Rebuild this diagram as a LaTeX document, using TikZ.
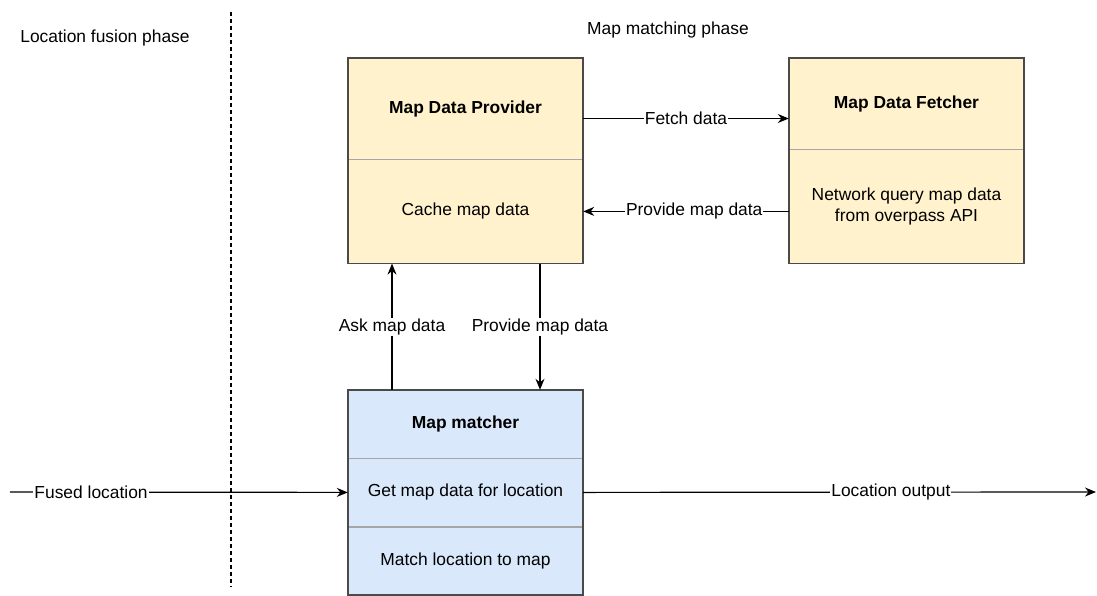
\documentclass[tikz,border=0pt]{standalone}
\usepackage{fontspec}
\setmainfont{Liberation Sans}
\usetikzlibrary{arrows.meta}
\usetikzlibrary{positioning}

\definecolor{yellowfill}{HTML}{FFF2CC}
\definecolor{bluefill}{HTML}{DAE8FC}
\definecolor{framegray}{HTML}{4A4A4A}

\begin{document}
\begin{tikzpicture}[x=1pt, y=-1pt, font=\fontsize{17.4}{21}\selectfont,
	part/.style={draw=gray!70, minimum width=235pt, inner sep=0pt, align=center},
	yellowpart/.style={part, fill=yellowfill},
	bluepart/.style={part, fill=bluefill},
	frame/.style={draw=framegray, line width=1.5pt},
	flow/.style={-{Stealth[length=11pt,width=9pt]}, line width=1.2pt},
	tag/.style={fill=white, inner sep=1pt}]
	\useasboundingbox (0,0) rectangle (1097,595);

	\node (fusion) at (105,38) {Location fusion phase};
	\node (matching) at (668,30) {Map matching phase};
	\draw[line width=1.2pt, dash pattern=on 4pt off 3pt] (231,12) -- (231,587);

	\node[yellowpart, minimum height=101pt] (prov) at (465.5,108.5) {\textbf{Map Data Provider}};
	\node[yellowpart, minimum height=104pt, below=0pt of prov] (cache) {Cache map data};
	\draw[frame] (prov.north west) rectangle (cache.south east);

	\node[yellowpart, minimum height=91pt] (fetch) at (906.5,103.5) {\textbf{Map Data Fetcher}};
	\node[yellowpart, minimum height=114pt, below=0pt of fetch] (query) {Network query map data\\from overpass API};
	\draw[frame] (fetch.north west) rectangle (query.south east);

	\node[bluepart, minimum height=68pt] (match) at (465.5,424) {\textbf{Map matcher}};
	\node[bluepart, minimum height=68pt, below=0pt of match] (getdata) {Get map data for location};
	\node[bluepart, minimum height=68pt, below=0pt of getdata] (tomap) {Match location to map};
	\draw[frame] (match.north west) rectangle (tomap.south east);

	\coordinate (in) at (10,492);
	\coordinate (out) at (1096,492);

	\draw[flow] ([yshift=-10pt]prov.east) -- ([yshift=-10pt]prov.east -| fetch.west) node[tag, midway] {Fetch data};
	\draw[flow] (query.west |- cache.east) -- (cache.east) node[tag, pos=0.46] {Provide map data};
	\draw[flow] ([xshift=-73.5pt]match.north) -- ([xshift=-73.5pt]cache.south) node[tag, midway] {Ask map data};
	\draw[flow] ([xshift=74.5pt]cache.south) -- ([xshift=74.5pt]match.north) node[tag, midway] {Provide map data};
	\draw[flow] (in) -- (getdata.west) node[tag, pos=0.24] {Fused location};
	\draw[flow] (getdata.east) -- (out) node[tag, pos=0.6] {Location output};
\end{tikzpicture}
\end{document}
